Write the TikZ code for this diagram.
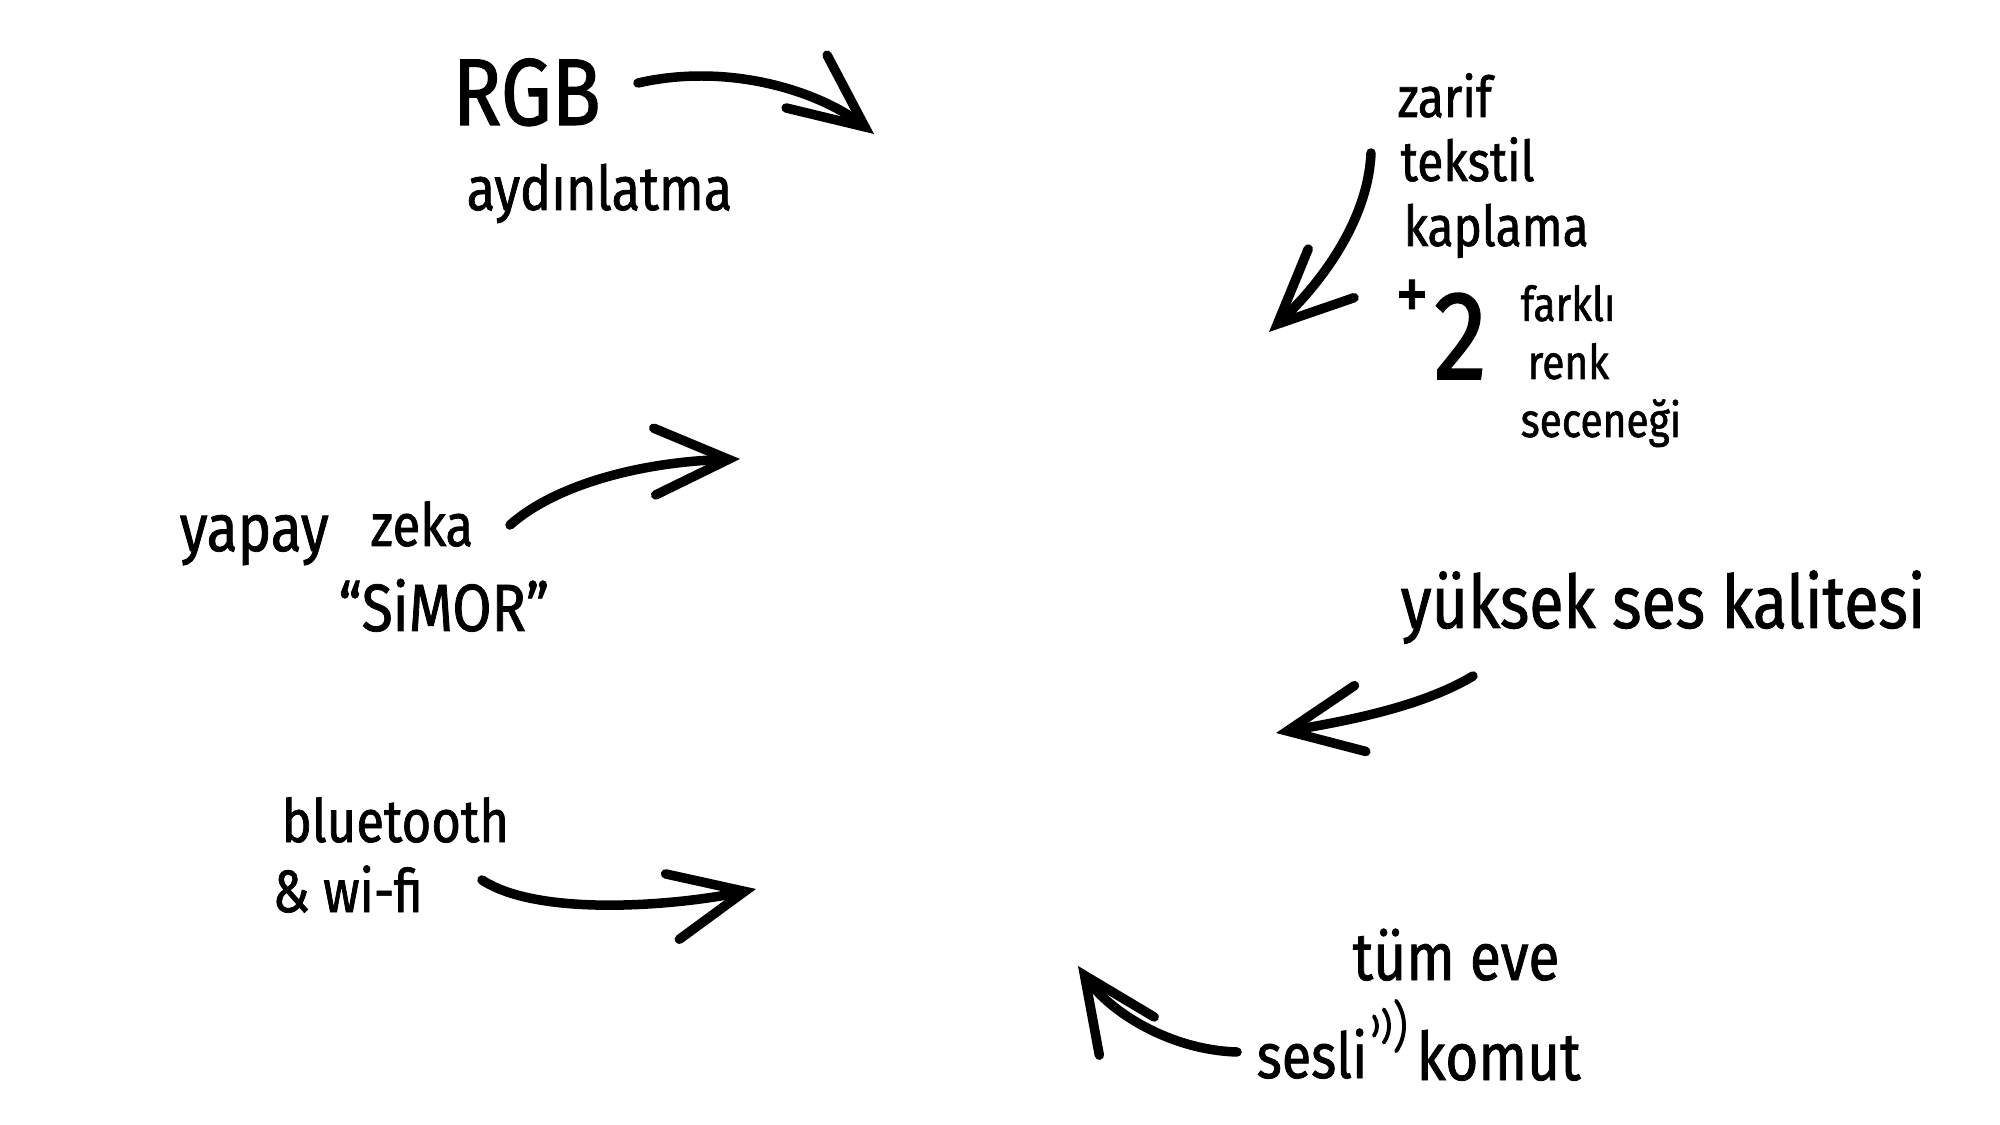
\documentclass[tikz,border=0pt]{standalone}
\usepackage{fontspec}
\setmainfont[FakeStretch=0.85, FakeBold=1.2]{Fira Sans}
\usetikzlibrary{arrows.meta}

\tikzset{
  sketch/.style={line width=2.7pt, line cap=round, line join=round,
    -{Straight Barb[length=21pt,width=19pt,line cap=round]}},
  note/.style={inner sep=0pt, anchor=base west, font=\fontsize{#1}{#1}\selectfont},
  note/.default=17,
}

\begin{document}
\begin{tikzpicture}[x=0.01cm, y=-0.01cm]
\useasboundingbox (0,0) rectangle (2000,1125);

% top left
\node[note=27] (rgb) at (452,125) {RGB};
\node[note=17.5] (aydin) at (466,210) {aydınlatma};
\coordinate (a1s) at (638,83);
\coordinate (a1e) at (874,134);
\draw[sketch] (a1s) .. controls (730,62) and (820,92) .. (a1e);

% top right
\node[note=16] (zarif) at (1397,117) {zarif};
\node[note=16] (tekstil) at (1400,181) {tekstil};
\node[note=16] (kaplama) at (1403,246) {kaplama};
\node[inner sep=0pt, font=\fontsize{22}{22}\selectfont] (plus) at (1412,300) {+};
\node[note=36] (two) at (1433,379) {2};
\node[note=14, align=left, font=\fontsize{13.6}{16.5}\selectfont] (renk) at (1520,437)
  {farklı\\\hspace{2pt}renk\\seceneği};
\coordinate (a2s) at (1371,153);
\coordinate (a2e) at (1269,332);
\draw[sketch] (a2s) .. controls (1368,220) and (1322,282) .. (a2e);

% middle left
\node[note=19] (yapay) at (179,551) {yapay};
\node[note=17] (zeka) at (370,546) {zeka};
\node[note=19] (simor) at (338,631) {“SiMOR”};
\coordinate (a3s) at (510,525);
\coordinate (a3e) at (740,459);
\draw[sketch] (a3s) .. controls (555,485) and (640,462) .. (a3e);

% middle right
\node[note=21] (yuksek) at (1400,628) {yüksek ses kalitesi};
\coordinate (a4s) at (1473,676);
\coordinate (a4e) at (1276,733);
\draw[sketch] (a4s) .. controls (1420,708) and (1340,722) .. (a4e);

% bottom left
\node[note] (bluetooth) at (281,842) {bluetooth};
\node[note] (wifi) at (272,912) {\& wi-fi};
\coordinate (a5s) at (482,880);
\coordinate (a5e) at (756,889);
\draw[sketch] (a5s) .. controls (540,918) and (680,905) .. (a5e);

% bottom right
\node[note=19] (tum) at (1352,980) {tüm eve};
\node[note=18] (sesli) at (1256,1078) {sesli};
\node[note=19] (komut) at (1416,1080) {komut};
\coordinate (wave) at (1360,1026);
\foreach \r in {0.17,0.29,0.44}
  \draw[line width=1.1pt, line cap=round]
    ([shift={(-35:\r cm)}]wave) arc[start angle=-35, end angle=35, radius=\r cm];
\coordinate (a6s) at (1237,1052);
\coordinate (a6e) at (1078,966);
\draw[sketch] (a6s) .. controls (1170,1050) and (1110,1012) .. (a6e);
\end{tikzpicture}
\end{document}
